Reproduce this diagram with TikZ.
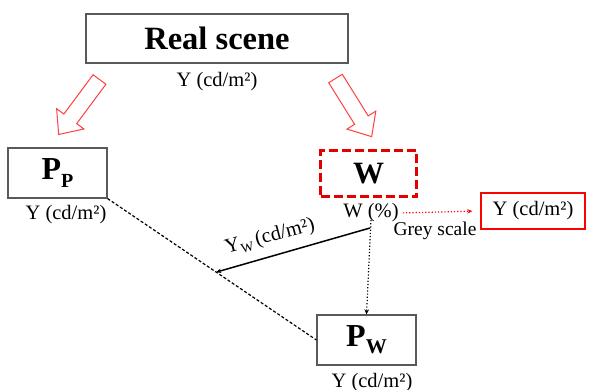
\documentclass[tikz,border=0pt]{standalone}
\usepackage{fontspec}
\setmainfont{Liberation Serif}
\usetikzlibrary{arrows.meta,calc}
\begin{document}
\begin{tikzpicture}[x=1pt,y=-1pt,
  box/.style={draw=black!65,line width=1.2pt,inner sep=0pt},
  lbl/.style={font=\fontsize{20.5}{20.5}\selectfont,inner sep=0pt},
  blockarrow/.style={draw=red!75,line width=1pt,fill=white},
  blockarr/.pic={\draw[blockarrow] (0,-8)--(49,-8)--(49,-17)--(68.5,0)--(49,17)--(49,8)--(0,8)--cycle;},
  tip/.style={-{Stealth[length=5pt,width=4.5pt]}}]
\useasboundingbox (0,0) rectangle (589,389);
% boxes
\node[box,minimum width=262pt,minimum height=49pt] (real) at (217,38.5) {\fontsize{32.5}{32.5}\selectfont\bfseries Real scene};
\node[box,minimum width=99pt,minimum height=50pt] (pp) at (57.5,173) {\fontsize{32}{32}\selectfont\bfseries P\raisebox{-0.22em}{\fontsize{20}{20}\selectfont\bfseries P}};
\node[draw=red!90!black,dash pattern=on 9pt off 4pt,line width=3pt,minimum width=96pt,minimum height=46pt,inner sep=0pt] (w) at (368.5,173.5) {\fontsize{31}{31}\selectfont\bfseries W};
\node[box,minimum width=99pt,minimum height=50pt] (pw) at (366.5,340) {\fontsize{32}{32}\selectfont\bfseries P\raisebox{-0.22em}{\fontsize{21}{21}\selectfont\bfseries W}};
\node[draw=red,line width=1.4pt,minimum width=104pt,minimum height=36pt,inner sep=0pt,font=\fontsize{20.5}{20.5}\selectfont] (gb) at (533,211) {Y (cd/m²)};
% labels
\node[lbl] (lreal) at (217,82) {Y (cd/m²)};
\node[lbl] (lpp) at (66,215) {Y (cd/m²)};
\node[lbl] (lpw) at (372,383) {Y (cd/m²)};
\node[lbl] (wl) at (371,213) {W (\%)};
\node[lbl,font=\fontsize{19.5}{19.5}\selectfont] (grey) at (435,231) {Grey scale};
\node[lbl,rotate=15] (lyw) at (270,237) {Y\raisebox{-0.2em}{\fontsize{13.5}{13.5}\selectfont W}\,(cd/m²)};
% block arrows
\pic[rotate=-126.6] at (99.5,79.5) {blockarr};
\pic[rotate=-58.1] at (335.5,78.5) {blockarr};
% connectors
\coordinate (m) at ($(pp.south east)!0.52!(pw.west)$);
\coordinate (ws) at (370,228);
\coordinate (wt) at (371,220);
\draw[line width=1.2pt,dash pattern=on 3pt off 2pt] (pp.south east) -- (pw.west);
\draw[tip,line width=1.5pt] (ws) -- (m);
\draw[tip,line width=1.2pt,dotted] (wt) -- (pw.north);
\draw[-{Stealth[length=5pt,width=4.5pt]},red,line width=1.2pt,dotted,shorten <=4pt,shorten >=8pt] (wl.east) -- (gb.west);
\end{tikzpicture}
\end{document}
